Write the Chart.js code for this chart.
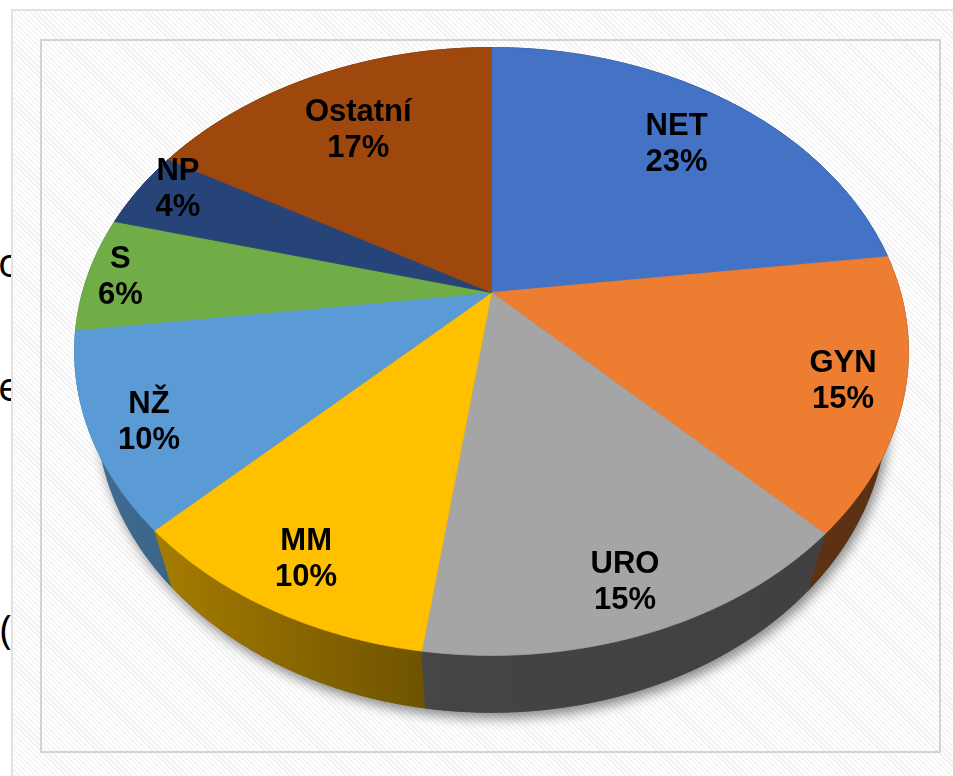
<!DOCTYPE html>
<html>
<head>
<meta charset="utf-8">
<script src="https://cdn.jsdelivr.net/npm/chart.js@4.4.1/dist/chart.umd.min.js"></script>
<style>
  html, body { margin: 0; padding: 0; background: #fff; }
  #page { position: relative; width: 953px; height: 776px; overflow: hidden; background: #fff; }
  #slide { position: absolute; left: 0; top: 0; width: 12px; height: 776px; overflow: hidden;
           font-family: "Open Sans", sans-serif; font-size: 40px; line-height: 40px; color: #000; }
  #slide span { position: absolute; }
  #frame { position: absolute; left: 11px; top: 9px; width: 942px; height: 767px;
           border-left: 2px solid #e2e2e2; border-top: 2px solid #e2e2e2;
           background: repeating-linear-gradient(45deg, #ffffff 0 2px, #f3f3f3 2px 3.6px); }
  #inner { position: absolute; left: 40px; top: 39px; width: 897px; height: 710px; border: 2px solid #d3d3d3; }
  #chart { position: absolute; left: 0; top: 0; }
</style>
</head>
<body>
<div id="page">
  <div id="slide">
    <span style="left:-2px; top:242px;">o</span>
    <span style="left:-2px; top:366px;">e</span>
    <span style="left:0px; top:609px;">(</span>
  </div>
  <div id="frame"></div>
  <div id="inner"></div>
  <canvas id="chart" width="953" height="776"></canvas>
</div>
<script>
// ---------------------------- data ----------------------------
const categories = ['NET', 'GYN', 'URO', 'MM', 'NŽ', 'S', 'NP', 'Ostatní'];
const shares = [23.0, 14.6, 14.6, 10.4, 10.4, 6.1, 4.2, 16.7];

// ---------------------------- style ---------------------------
const sliceColors = ['#4472C4', '#ED7D31', '#A5A5A5', '#FFC000', '#5B9BD5', '#70AD47', '#264478', '#9E480E'];
const labelRadius = [0.76, 0.86, 0.87, 0.86, 0.87, 0.92, 0.91, 0.73];
const labelTurn = [0, 0, 0, 0, -1.5, 0, 2.8, 0]; // degrees

// tilted pie with perspective (screen pixels)
const VIEW = { cx: 491.5, cy: 292.5, rx: 409, ry: 292.5, persp: 0.194, depth: 57, bottomScale: 0.948 };

const total = shares.reduce((a, b) => a + b, 0);
const percents = shares.map(v => Math.round(v / total * 100) + '%');

function project(theta, r, bottom) {
  const u = r * Math.sin(theta), w = -r * Math.cos(theta);
  const d = 1 - VIEW.persp * w;
  let x = VIEW.cx + VIEW.rx * u / d;
  let y = VIEW.cy + VIEW.ry * w / d;
  if (bottom) {
    x = VIEW.cx + (x - VIEW.cx) * VIEW.bottomScale;
    y = y + VIEW.depth;
  }
  return [x, y];
}

function rim(ctx, t1, t2, bottom, reverse, first) {
  const n = Math.max(2, Math.ceil(Math.abs(t2 - t1) / 0.01));
  for (let i = 0; i <= n; i++) {
    const k = reverse ? n - i : i;
    const p = project(t1 + (t2 - t1) * k / n, 1, bottom);
    if (first && i === 0) ctx.moveTo(p[0], p[1]); else ctx.lineTo(p[0], p[1]);
  }
}

function shade(hex, f) {
  const n = parseInt(hex.slice(1), 16);
  const r = Math.round(((n >> 16) & 255) * f);
  const g = Math.round(((n >> 8) & 255) * f);
  const b = Math.round((n & 255) * f);
  return 'rgb(' + r + ',' + g + ',' + b + ')';
}

const pie3d = {
  id: 'pie3d',
  beforeDatasetsDraw(chart) {
    const ctx = chart.ctx;
    const arcs = chart.getDatasetMeta(0).data.map((a, i) => ({
      i: i,
      t1: a.startAngle + Math.PI / 2,
      t2: a.endAngle + Math.PI / 2
    }));

    // drop shadow under the pie
    ctx.save();
    ctx.shadowColor = 'rgba(0,0,0,0.45)';
    ctx.shadowBlur = 12;
    ctx.shadowOffsetX = 3;
    ctx.shadowOffsetY = 6;
    ctx.beginPath();
    rim(ctx, 0, Math.PI * 2, true, false, true);
    ctx.closePath();
    ctx.fillStyle = '#444';
    ctx.fill();
    ctx.restore();

    // side walls, back to front
    const order = arcs.slice().sort((a, b) => Math.cos((b.t1 + b.t2) / 2) - Math.cos((a.t1 + a.t2) / 2));
    order.forEach(a => {
      const col = sliceColors[a.i];
      const grad = ctx.createLinearGradient(70, 0, 910, 0);
      grad.addColorStop(0, shade(col, 0.72));
      grad.addColorStop(0.452, shade(col, 0.41));
      grad.addColorStop(1, shade(col, 0.39));
      ctx.beginPath();
      rim(ctx, a.t1, a.t2, false, false, true);
      rim(ctx, a.t1, a.t2, true, true, false);
      ctx.closePath();
      ctx.fillStyle = grad;
      ctx.strokeStyle = grad;
      ctx.lineWidth = 0.8;
      ctx.fill();
      ctx.stroke();
    });

    // top faces
    arcs.forEach(a => {
      const c = project(0, 0, false);
      ctx.beginPath();
      ctx.moveTo(c[0], c[1]);
      rim(ctx, a.t1, a.t2, false, false, false);
      ctx.closePath();
      ctx.fillStyle = sliceColors[a.i];
      ctx.strokeStyle = sliceColors[a.i];
      ctx.lineWidth = 0.8;
      ctx.fill();
      ctx.stroke();
    });

    // data labels
    ctx.fillStyle = '#000';
    ctx.font = 'bold 31px "Liberation Sans", Arial, sans-serif';
    ctx.textAlign = 'center';
    ctx.textBaseline = 'alphabetic';
    arcs.forEach(a => {
      const mid = (a.t1 + a.t2) / 2 + labelTurn[a.i] * Math.PI / 180;
      const p = project(mid, labelRadius[a.i], false);
      ctx.fillText(categories[a.i], p[0], p[1] - 7);
      ctx.fillText(percents[a.i], p[0], p[1] + 29);
    });

    return false; // skip the flat pie
  }
};

new Chart(document.getElementById('chart'), {
  type: 'pie',
  data: {
    labels: categories,
    datasets: [{
      data: shares,
      backgroundColor: sliceColors,
      borderWidth: 0
    }]
  },
  options: {
    responsive: false,
    animation: false,
    events: [],
    rotation: 0,
    plugins: {
      legend: { display: false },
      tooltip: { enabled: false }
    }
  },
  plugins: [pie3d]
});
</script>
</body>
</html>
